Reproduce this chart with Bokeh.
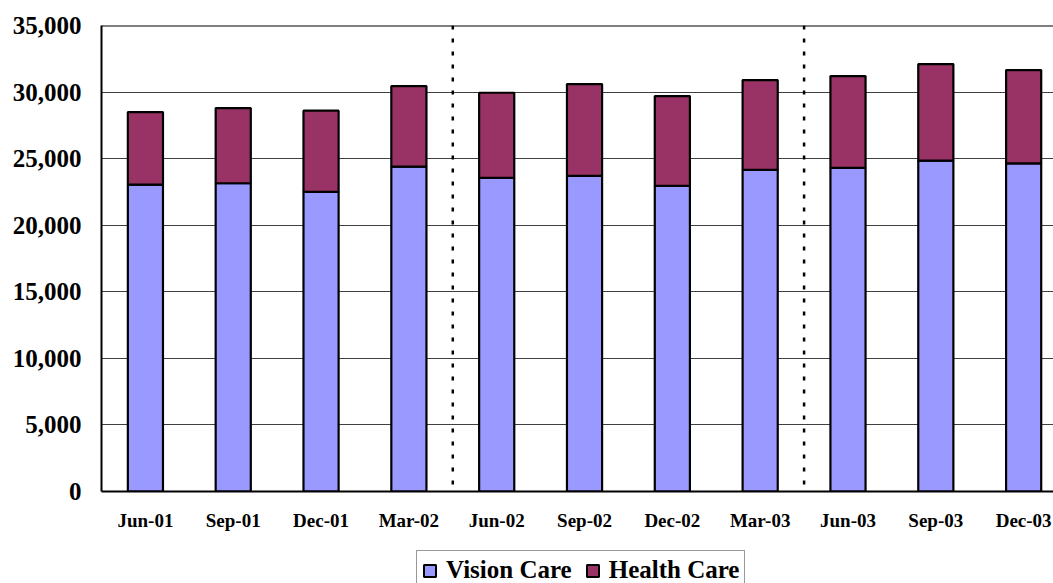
from bokeh.plotting import figure
from bokeh.layouts import column
from bokeh.models import ColumnDataSource, Range1d, FixedTicker, Span, Legend, LegendItem, NumeralTickFormatter
from bokeh.embed import file_html
from bokeh.resources import INLINE

quarters = ["Jun-01", "Sep-01", "Dec-01", "Mar-02", "Jun-02", "Sep-02",
            "Dec-02", "Mar-03", "Jun-03", "Sep-03", "Dec-03"]
vision_care = [23050, 23150, 22500, 24400, 23550, 23700, 22950, 24150, 24300, 24850, 24650]
total_height = [28500, 28800, 28600, 30450, 29950, 30600, 29700, 30900, 31200, 32100, 31650]
health_care = [t - v for t, v in zip(total_height, vision_care)]
y_ticks = [0, 5000, 10000, 15000, 20000, 25000, 30000, 35000]
year_dividers = [3.5, 7.5]
series_names = ["Vision Care", "Health Care"]
series_colors = ["#9999FF", "#993366"]

xs = list(range(len(quarters)))
src = ColumnDataSource(dict(x=xs, vision=vision_care, health=health_care))

p = figure(width=1053, height=550, output_backend="svg", toolbar_location=None,
           x_range=Range1d(-0.5, 10.34), y_range=Range1d(0, 35000),
           min_border_left=101, min_border_right=0, min_border_top=25, min_border_bottom=59)
p.outline_line_color = None
p.background_fill_color = "white"
p.border_fill_color = "white"

rs = p.vbar_stack(["vision", "health"], x="x", width=0.4, source=src,
                  fill_color=series_colors, line_color="black", line_width=2.2)

# axes
p.xaxis.ticker = FixedTicker(ticks=xs)
p.xaxis.major_label_overrides = {i: q for i, q in zip(xs, quarters)}
p.yaxis.ticker = FixedTicker(ticks=y_ticks)
p.yaxis.formatter = NumeralTickFormatter(format="0,0")
for ax in (p.xaxis, p.yaxis):
    ax.axis_line_color = "black"
    ax.axis_line_width = 2
    ax.major_tick_line_color = None
    ax.minor_tick_line_color = None
    ax.major_tick_out = 0
    ax.major_tick_in = 0
    ax.major_label_text_font = "Liberation Serif"
    ax.major_label_text_font_style = "bold"
    ax.major_label_text_color = "black"
p.xaxis.major_label_text_font_size = "19px"
p.xaxis.major_label_standoff = 18
p.yaxis.major_label_text_font_size = "25px"
p.yaxis.major_label_standoff = 20

p.xgrid.grid_line_color = None
p.ygrid.grid_line_color = "#404040"
p.ygrid.grid_line_width = 1
p.ygrid.ticker = FixedTicker(ticks=y_ticks)

# top border
p.add_layout(Span(location=35000, dimension="width", line_color="black", line_width=2))
# dotted year dividers
for d in year_dividers:
    p.add_layout(Span(location=d, dimension="height", line_color="black",
                      line_width=2.5, line_dash="4 9"))

# legend strip below the chart (its frame is aligned with the chart frame)
p2 = figure(width=1053, height=33, output_backend="svg", toolbar_location=None,
            x_range=Range1d(0, 1), y_range=Range1d(0, 1), min_border=0)
p2.axis.visible = False
p2.grid.grid_line_color = None
p2.outline_line_color = None
p2.background_fill_color = "white"
p2.border_fill_color = "white"
# legend key proxies, placed below the visible range of the strip
keys = [p2.vbar(x=[0.5], bottom=[-30], top=[-20], width=0.1, fill_color=c,
                line_color="black", line_width=2)
        for c in series_colors]

legend = Legend(items=[LegendItem(label=n, renderers=[k]) for n, k in zip(series_names, keys)],
                orientation="horizontal", location=(315, -7))
legend.label_text_font = "Liberation Serif"
legend.label_text_font_style = "bold"
legend.label_text_font_size = "25px"
legend.label_text_color = "black"
legend.label_height = 15
legend.glyph_width = 15
legend.glyph_height = 15
legend.label_standoff = 9
legend.spacing = 13
legend.padding = 5
legend.margin = 0
legend.border_line_color = "#333333"
legend.border_line_width = 1
legend.background_fill_alpha = 1
p2.add_layout(legend, "center")

layout = column(p, p2, spacing=0)
open("out.html", "w").write(file_html(layout, INLINE))
